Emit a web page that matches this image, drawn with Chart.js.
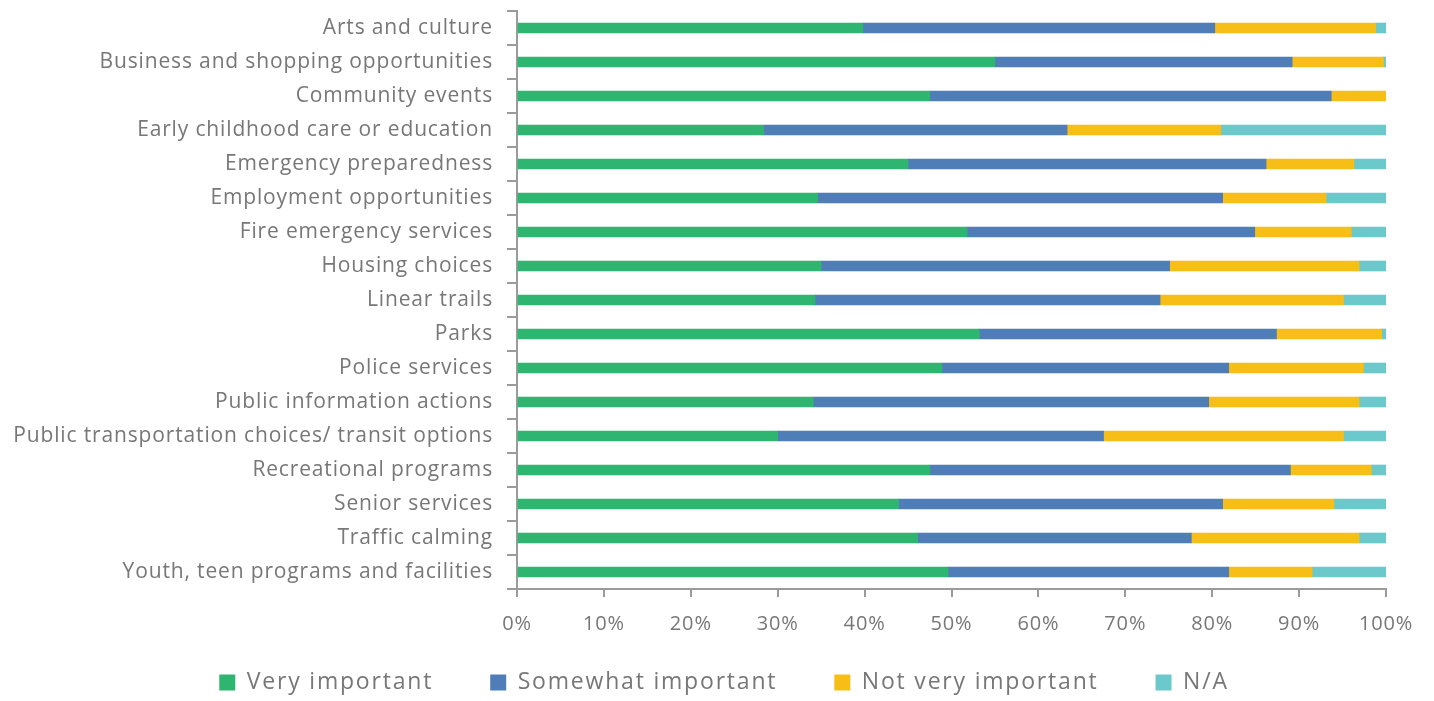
<!DOCTYPE html>
<html>
<head>
<meta charset="utf-8">
<script src="https://cdn.jsdelivr.net/npm/chart.js@4.4.1/dist/chart.umd.min.js"></script>
<style>
  html, body { margin: 0; padding: 0; background: #fff; }
  #wrap { width: 1434px; height: 701px; position: relative; }
</style>
</head>
<body>
<div id="wrap"><canvas id="importance-chart"></canvas></div>
<script>
// Survey items, top to bottom
const categories = [
    'Arts and culture',
    'Business and shopping opportunities',
    'Community events',
    'Early childhood care or education',
    'Emergency preparedness',
    'Employment opportunities',
    'Fire emergency services',
    'Housing choices',
    'Linear trails',
    'Parks',
    'Police services',
    'Public information actions',
    'Public transportation choices/ transit options',
    'Recreational programs',
    'Senior services',
    'Traffic calming',
    'Youth, teen programs and facilities'
];

// Share of responses (%)
const veryImportant     = [39.8, 55.0, 47.5, 28.4, 45.0, 34.6, 51.8, 35.0, 34.3, 53.2, 48.9, 34.1, 30.0, 47.5, 43.9, 46.1, 49.6];
const somewhatImportant = [40.5, 34.2, 46.2, 34.9, 41.2, 46.6, 33.1, 40.1, 39.7, 34.2, 33.0, 45.5, 37.5, 41.5, 37.3, 31.5, 32.3];
const notVeryImportant  = [18.5, 10.5,  6.3, 17.7, 10.1, 11.9, 11.1, 21.8, 21.1, 12.1, 15.5, 17.3, 27.6,  9.3, 12.8, 19.3,  9.6];
const notApplicable     = [ 1.2,  0.3,  0.0, 19.0,  3.7,  6.9,  4.0,  3.1,  4.9,  0.5,  2.6,  3.1,  4.9,  1.7,  6.0,  3.1,  8.5];

// Percentage axis ticks
const percentTicks = [0, 10, 20, 30, 40, 50, 60, 70, 80, 90, 100];

const seriesLabels = ['Very important', 'Somewhat important', 'Not very important', 'N/A'];
const seriesColors = ['#2eb56f', '#4f7db8', '#f7be17', '#6cc9cb'];
const seriesValues = [veryImportant, somewhatImportant, notVeryImportant, notApplicable];

const axisColor = '#9b9b9b';
const textColor = '#777777';
const fontFamily = '"Open Sans", "Liberation Sans", sans-serif';

const axisSpacing = '0.85px';
const legendSpacing = '1.8px';

// Wider letter spacing for axis text and legend text
const letterSpacingPlugin = {
    id: 'letterSpacing',
    afterInit: function(chart) {
        const legend = chart.legend;
        ['fit', 'draw'].forEach(function(name) {
            const original = legend[name];
            legend[name] = function() {
                const prev = chart.ctx.letterSpacing;
                chart.ctx.letterSpacing = legendSpacing;
                const result = original.apply(this, arguments);
                chart.ctx.letterSpacing = prev;
                return result;
            };
        });
    },
    beforeUpdate: function(chart) {
        chart.ctx.letterSpacing = axisSpacing;
    },
    beforeDraw: function(chart) {
        chart.ctx.letterSpacing = axisSpacing;
    },
    afterLayout: function(chart) {
        // nudge the legend row to the right
        chart.legend.left += 62;
    }
};

const datasets = seriesLabels.map(function(label, i) {
    return {
        label: label,
        data: seriesValues[i],
        backgroundColor: seriesColors[i],
        borderWidth: 0,
        barThickness: 10
    };
});

const ctx = document.getElementById('importance-chart').getContext('2d');

new Chart(ctx, {
    type: 'bar',
    data: {
        labels: categories,
        datasets: datasets
    },
    plugins: [letterSpacingPlugin],
    options: {
        indexAxis: 'y',
        responsive: true,
        maintainAspectRatio: false,
        animation: false,
        layout: {
            padding: { left: 0, right: 48, top: 11, bottom: -3 }
        },
        plugins: {
            legend: {
                position: 'bottom',
                labels: {
                    boxWidth: 16,
                    boxHeight: 16,
                    padding: 57,
                    color: textColor,
                    font: { family: fontFamily, size: 23 }
                }
            },
            tooltip: { enabled: false }
        },
        scales: {
            x: {
                stacked: true,
                min: 0,
                max: 100,
                afterBuildTicks: function(scale) {
                    scale.ticks = percentTicks.map(function(v) { return { value: v }; });
                },
                afterFit: function(scale) {
                    scale.height = 25;
                    // let the tick labels run below the short axis box
                    scale._computeLabelArea = function() { return null; };
                },
                ticks: {
                    color: textColor,
                    padding: 15,
                    font: { family: fontFamily, size: 20 },
                    callback: function(value) {
                        return value + '%';
                    }
                },
                grid: {
                    drawOnChartArea: false,
                    drawTicks: true,
                    tickLength: 8,
                    color: axisColor,
                    lineWidth: 2
                },
                border: { color: axisColor, width: 2 }
            },
            y: {
                stacked: true,
                afterFit: function(scale) {
                    scale.width = 517;
                    scale.paddingTop = 0;
                    scale.paddingBottom = 0;
                },
                ticks: {
                    color: textColor,
                    padding: 14,
                    autoSkip: false,
                    font: { family: fontFamily, size: 21 }
                },
                grid: {
                    drawOnChartArea: false,
                    drawTicks: true,
                    tickLength: 10,
                    color: axisColor,
                    lineWidth: 2
                },
                border: { color: axisColor, width: 2 }
            }
        }
    }
});
</script>
</body>
</html>
